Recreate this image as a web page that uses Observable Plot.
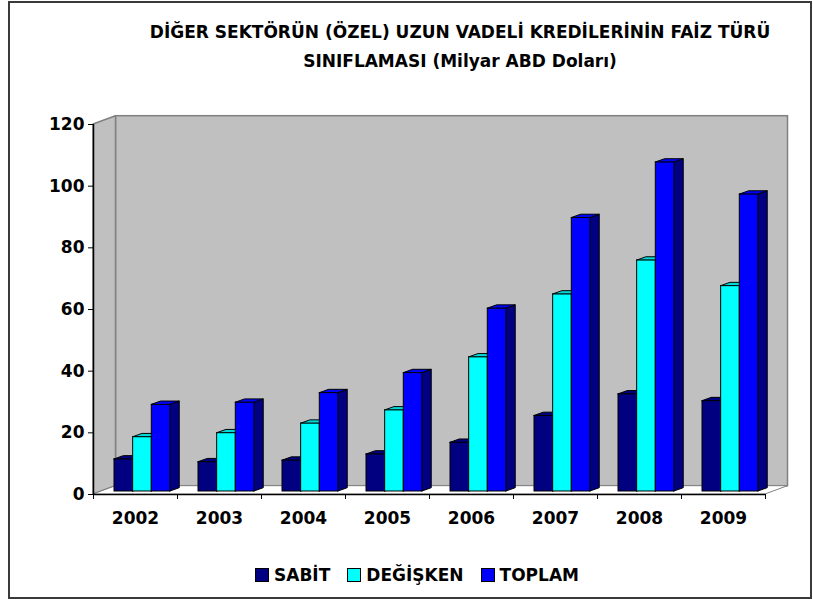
<!DOCTYPE html>
<html><head><meta charset="utf-8">
<script src="https://cdn.jsdelivr.net/npm/d3@7"></script>
<script src="https://cdn.jsdelivr.net/npm/@observablehq/plot@0.6"></script>
<style>
body{margin:0;background:#fff;font-family:"DejaVu Sans",sans-serif;}
#frame{position:absolute;left:8px;top:1px;width:800px;height:594px;border:2px solid #3a3a3a;box-sizing:content-box;}
#title{position:absolute;left:60px;width:800px;top:18px;text-align:center;font-weight:bold;font-size:17px;line-height:29px;white-space:pre;color:#000;}
#chart{position:absolute;left:0;top:90px;}
#legend{position:absolute;top:565px;left:255px;display:flex;align-items:center;font-weight:bold;font-size:17px;color:#000;}
.sw{width:12px;height:12px;border:1px solid #000;margin-right:5px;}
.it{display:flex;align-items:center;margin-right:17px;}
</style></head>
<body>
<div id="frame"></div>
<div id="title"></div>
<div id="chart"></div>
<div id="legend"></div>
<script>
const years = ["2002","2003","2004","2005","2006","2007","2008","2009"];
const seriesNames = ["SABİT","DEĞİŞKEN","TOPLAM"];
const sabit    = [10.4, 9.5, 10.0, 12.0, 15.8, 24.5, 31.5, 29.3];
const degisken = [17.6, 18.9, 22.0, 26.3, 43.5, 63.9, 74.9, 66.6];
const toplam   = [28.1, 28.8, 31.9, 38.4, 59.3, 88.7, 106.7, 96.3];
const yTicks = [0, 20, 40, 60, 80, 100, 120];
const titleText = "DİĞER SEKTÖRÜN (ÖZEL) UZUN VADELİ KREDİLERİNİN FAİZ TÜRÜ\nSINIFLAMASI (Milyar ABD Doları)";

const frontColors = ["#000080", "#00FFFF", "#0000FF"];
const topColors   = ["#000080", "#00D8D8", "#0000FF"];
const sideColors  = ["#000060", "#00A0A0", "#000080"];

document.getElementById("title").textContent = titleText;

const W = 813, H = 460, mL = 93, mR = 48, mT = 34, mB = 56;
const pxX = (W - mL - mR) / years.length;   // px per category unit
const pxY = (H - mT - mB) / 120;            // px per value unit
// depth of bars and walls in data units
const bdx = 9.3 / pxX, bdy = 3.3 / pxY;
const wdx = 22.5 / pxX, wdy = 8.3 / pxY;
const barOff = 0.25, barW = 0.222;

const values = [sabit, degisken, toplam];
const bars = [];
years.forEach((yr, i) => {
  values.forEach((arr, s) => {
    const a = i + barOff + s * barW, b = a + barW;
    bars.push({year: yr, s, v: arr[i], a, b, id: `${i}-${s}`});
  });
});
const sides = bars.flatMap(d => [
  {id: d.id, s: d.s, x: d.b, y1: 0, y2: d.v},
  {id: d.id, s: d.s, x: d.b + bdx, y1: bdy, y2: d.v + bdy}
]);
const tops = bars.flatMap(d => [
  {id: d.id, s: d.s, y: d.v, x1: d.a, x2: d.b},
  {id: d.id, s: d.s, y: d.v + bdy, x1: d.a + bdx, x2: d.b + bdx}
]);

const leftWall = [{x: 0, y1: 0, y2: 120}, {x: wdx, y1: wdy, y2: 120 + wdy}];
const floor = [{y: 0, x1: 0, x2: years.length}, {y: wdy, x1: wdx, x2: years.length + wdx}];

const plot = Plot.plot({
  width: W, height: H,
  marginLeft: mL, marginRight: mR, marginTop: mT, marginBottom: mB,
  x: {type: "linear", domain: [0, years.length]},
  y: {type: "linear", domain: [0, 120]},
  style: {fontFamily: "DejaVu Sans", fontSize: "17px", fontWeight: "bold", color: "#000", background: "transparent", overflow: "visible"},
  marks: [
    Plot.rect([{x1: 0, x2: years.length, y1: 0, y2: 120}], {x1: "x1", x2: "x2", y1: "y1", y2: "y2", dx: 22.5, dy: -8.3, fill: "#C0C0C0", stroke: "#808080", strokeWidth: 1.5}),
    Plot.areaY(leftWall, {x: "x", y1: "y1", y2: "y2", fill: "#C0C0C0", stroke: "#808080", strokeWidth: 1.5}),
    Plot.areaX(floor, {y: "y", x1: "x1", x2: "x2", fill: "#FFFFFF", stroke: "#808080", strokeWidth: 1}),
    Plot.areaY(sides, {x: "x", y1: "y1", y2: "y2", z: "id", fill: d => sideColors[d.s], stroke: "#000", strokeWidth: 1, dy: -3}),
    Plot.areaX(tops, {y: "y", x1: "x1", x2: "x2", z: "id", fill: d => topColors[d.s], stroke: "#000", strokeWidth: 1, dy: -3}),
    Plot.rect(bars, {x1: "a", x2: "b", y1: 0, y2: "v", fill: d => frontColors[d.s], stroke: "#000", strokeWidth: 1, dy: -3}),
    Plot.ruleY([0], {stroke: "#000", strokeWidth: 1.5}),
    Plot.ruleX([0], {y1: 0, y2: 120, stroke: "#000", strokeWidth: 1.5}),
    Plot.axisY({ticks: yTicks, tickSize: 5, tickPadding: 4, label: null, tickFormat: d => String(d)}),
    Plot.axisX({ticks: d3.range(years.length + 1), tickSize: 5, tickFormat: () => "", label: null}),
    Plot.axisX({ticks: years.map((_, i) => i + 0.5), tickSize: 0, tickPadding: 17, tickFormat: t => years[Math.floor(t)], label: null})
  ]
});
document.getElementById("chart").appendChild(plot);

const legend = document.getElementById("legend");
seriesNames.forEach((n, s) => {
  const it = document.createElement("div");
  it.className = "it";
  const sw = document.createElement("div");
  sw.className = "sw";
  sw.style.background = frontColors[s];
  const t = document.createElement("span");
  t.textContent = n;
  it.appendChild(sw); it.appendChild(t);
  legend.appendChild(it);
});
</script>
</body></html>
